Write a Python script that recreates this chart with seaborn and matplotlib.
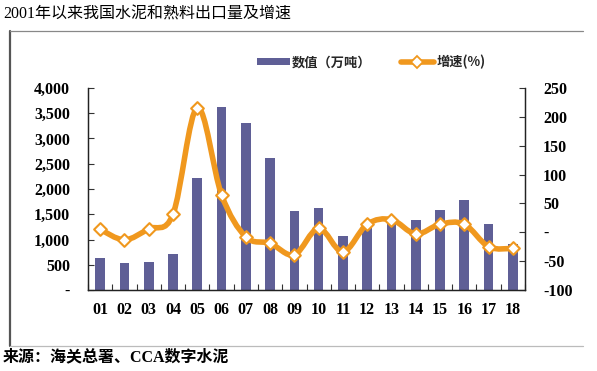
import numpy as np
import pandas as pd
import matplotlib
matplotlib.use("Agg")
import matplotlib.pyplot as plt
from matplotlib.path import Path
from matplotlib.patches import PathPatch
from matplotlib.lines import Line2D
from matplotlib.patches import Patch
import seaborn as sns

# ---- data ----
categories = ["01", "02", "03", "04", "05", "06", "07", "08", "09",
              "10", "11", "12", "13", "14", "15", "16", "17", "18"]
volume = [625, 525, 545, 705, 2225, 3615, 3305, 2620, 1565,
          1615, 1075, 1220, 1390, 1385, 1585, 1775, 1305, 905]
growth = [5, -13, 6, 31, 216, 65, -8, -19, -39,
          7, -34, 14, 22, -3, 14, 14, -25, -28]
left_ticks = [0, 500, 1000, 1500, 2000, 2500, 3000, 3500, 4000]
right_ticks = [-100, -50, 0, 50, 100, 150, 200, 250]

title = "2001年以来我国水泥和熟料出口量及增速"
source = "来源：海关总署、CCA数字水泥"
bar_label = "数值（万吨）"
line_label = "增速(%)"

BAR_C = "#5F5F96"
LINE_C = "#F0981E"

sns.set_theme(style="white")
plt.rcParams["font.family"] = ["Liberation Serif", "Noto Sans CJK SC", "DejaVu Sans"]

W, H = 597, 371
fig = plt.figure(figsize=(W / 100, H / 100), dpi=100)
ax = fig.add_axes([88 / W, 1 - 290 / H, (525 - 88) / W, (290 - 88) / H])

df = pd.DataFrame({"cat": categories, "vol": volume})
sns.barplot(data=df, x="cat", y="vol", color=BAR_C, saturation=1, width=0.4,
            ax=ax, edgecolor="none", zorder=2)
ax.set_xlim(-0.5, len(categories) - 0.5)
ax.set_ylim(0, 4000)
ax.set_yticks(left_ticks)
ax.set_yticklabels(["-" if v == 0 else f"{v:,}" for v in left_ticks])
ax.set_xlabel("")
ax.set_ylabel("")

ax2 = ax.twinx()
ax2.set_ylim(-100, 250)
ax2.set_yticks(right_ticks)
ax2.set_yticklabels(["-" if v == 0 else f"{v}" for v in right_ticks])

# smooth curve (Catmull-Rom -> cubic Bezier) through data points
xs = np.arange(len(growth), dtype=float)
ys = np.array(growth, dtype=float)
pts = np.column_stack([xs, ys])
verts = [pts[0]]
codes = [Path.MOVETO]
n = len(pts)
for i in range(n - 1):
    p0 = pts[i - 1] if i > 0 else pts[i]
    p1 = pts[i]
    p2 = pts[i + 1]
    p3 = pts[i + 2] if i + 2 < n else pts[i + 1]
    c1 = p1 + (p2 - p0) / 6.0
    c2 = p2 - (p3 - p1) / 6.0
    verts += [c1, c2, p2]
    codes += [Path.CURVE4] * 3
ax2.add_patch(PathPatch(Path(verts, codes), facecolor="none", edgecolor=LINE_C,
                        lw=4.0, capstyle="round", joinstyle="round", zorder=3))
sns.scatterplot(x=xs, y=ys, ax=ax2, marker="D", s=42, color="white",
                edgecolor=LINE_C, linewidth=1.5, zorder=4, legend=False)

num_font = dict(family=["Liberation Serif", "DejaVu Serif"], weight="bold", size=11.5)
for a in (ax, ax2):
    a.spines["top"].set_visible(False)
    for s in ("left", "right", "bottom"):
        a.spines[s].set_color("#222222")
        a.spines[s].set_linewidth(0.9)
    a.grid(False)

ax.tick_params(axis="y", direction="in", length=4, width=0.8, color="#333333",
               pad=13, left=True)
ax2.tick_params(axis="y", direction="in", length=4, width=0.8, color="#333333",
                pad=13, right=True)
ax.tick_params(axis="x", which="major", length=0, pad=9)
ax.set_xticks(np.arange(-0.5, len(categories), 1.0), minor=True)
ax.tick_params(axis="x", which="minor", direction="in", length=4, width=0.8,
               color="#333333", bottom=True)
for lab in ax.get_yticklabels() + ax2.get_yticklabels() + ax.get_xticklabels():
    lab.set_fontproperties(matplotlib.font_manager.FontProperties(**num_font))
    lab.set_color("black")

# legend
handles = [Patch(facecolor=BAR_C, edgecolor="none"),
           Line2D([0], [0], color=LINE_C, lw=4.0, marker="D", markersize=6,
                  markerfacecolor="white", markeredgecolor=LINE_C, markeredgewidth=1.3)]
leg = fig.legend(handles, [bar_label, line_label], loc="center",
                 bbox_to_anchor=(371 / W, 1 - 62 / H), ncol=2, frameon=False,
                 handlelength=2.5, handleheight=0.45, handletextpad=0.2,
                 columnspacing=2.2,
                 prop=dict(family=["Noto Sans CJK SC"], weight="black", size=9.5))

# frame
fig.add_artist(Line2D([10 / W, 10 / W], [1 - 31 / H, 1 - 346 / H],
                      transform=fig.transFigure, color="#555555", lw=1.6))
fig.add_artist(Line2D([10 / W, 583 / W], [1 - 31 / H, 1 - 31 / H],
                      transform=fig.transFigure, color="#888888", lw=0.9))
fig.add_artist(Line2D([10 / W, 583 / W], [1 - 346 / H, 1 - 346 / H],
                      transform=fig.transFigure, color="#BBBBBB", lw=0.9))

fig.text(3 / W, 1 - 15 / H, title, ha="left", va="center", fontsize=11.5,
         family=["Liberation Serif", "Noto Sans CJK SC"], color="black")
fig.text(3 / W, 1 - 357 / H, source, ha="left", va="center", fontsize=11.5,
         family=["Liberation Serif", "Noto Sans CJK SC"], weight="bold",
         color="black")

fig.savefig("out.png", dpi=100)
